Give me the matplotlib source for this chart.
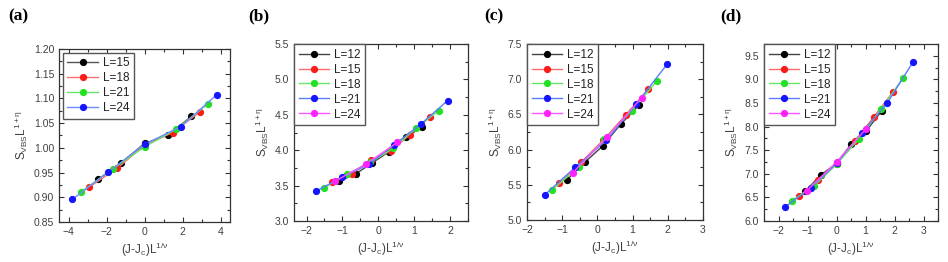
"""Finite-size scaling collapse of S_VBS L^(1+eta) for four parameter sets (a)-(d)."""
import matplotlib
matplotlib.use("Agg")
import matplotlib.pyplot as plt
from matplotlib.ticker import MultipleLocator

plt.rcParams["font.family"] = ["Liberation Sans", "DejaVu Sans"]
plt.rcParams["mathtext.fontset"] = "custom"
plt.rcParams["mathtext.rm"] = "Liberation Sans"
plt.rcParams["mathtext.it"] = "Liberation Sans"

# ---- data ----
a_sizes = ["L=15", "L=18", "L=21", "L=24"]
a_x = [[-2.45, -1.22, 0.0, 1.25, 2.47],
       [-2.90, -1.43, 0.0, 1.48, 2.90],
       [-3.34, -1.65, 0.0, 1.68, 3.34],
       [-3.79, -1.91, 0.0, 1.91, 3.79]]
a_y = [[0.936, 0.970, 1.009, 1.026, 1.064],
       [0.921, 0.959, 1.005, 1.031, 1.072],
       [0.911, 0.958, 1.002, 1.038, 1.089],
       [0.896, 0.951, 1.007, 1.043, 1.107]]

bcd_sizes = ["L=12", "L=15", "L=18", "L=21", "L=24"]
b_x = [[-1.09, -0.62, -0.17, 0.30, 0.76, 1.23],
       [-1.28, -0.73, -0.19, 0.35, 0.88, 1.44],
       [-1.52, -0.87, -0.22, 0.42, 1.05, 1.69],
       [-1.74, -1.00, -0.27, 0.45, 1.19, 1.93],
       [-1.21, -0.33, 0.53]]
b_y = [[3.56, 3.67, 3.82, 3.98, 4.18, 4.33],
       [3.55, 3.67, 3.86, 3.99, 4.22, 4.47],
       [3.47, 3.66, 3.83, 4.03, 4.31, 4.56],
       [3.42, 3.62, 3.80, 4.08, 4.37, 4.70],
       [3.56, 3.81, 4.11]]

c_x = [[-0.87, -0.36, 0.15, 0.66, 1.18],
       [-1.08, -0.46, 0.17, 0.80, 1.45],
       [-1.28, -0.53, 0.20, 0.97, 1.70],
       [-1.49, -0.63, 0.25, 1.11, 1.99],
       [-0.70, 0.28, 1.26]]
c_y = [[5.57, 5.82, 6.05, 6.36, 6.63],
       [5.52, 5.82, 6.14, 6.49, 6.86],
       [5.43, 5.75, 6.15, 6.55, 6.98],
       [5.36, 5.75, 6.13, 6.65, 7.22],
       [5.67, 6.18, 6.74]]

d_x = [[-1.08, -0.55, 0.0, 0.51, 1.03, 1.57],
       [-1.29, -0.65, 0.0, 0.63, 1.29, 1.94],
       [-1.54, -0.76, 0.0, 0.76, 1.54, 2.28],
       [-1.79, -0.89, 0.0, 0.88, 1.75, 2.64],
       [-1.03, 0.0, 1.00]]
d_y = [[6.63, 6.97, 7.22, 7.63, 7.91, 8.34],
       [6.52, 6.86, 7.20, 7.69, 8.21, 8.73],
       [6.43, 6.75, 7.20, 7.73, 8.37, 9.02],
       [6.29, 6.70, 7.22, 7.87, 8.50, 9.37],
       [6.64, 7.25, 7.94]]

# marker / line colours per size
mk_col = {"L=12": "#000000", "L=15": "#ff1a1a", "L=18": "#22e022",
          "L=21": "#1515ff", "L=24": "#ff22ff"}
ln_col = {"L=12": "#444444", "L=15": "#ff6a6a", "L=18": "#66e666",
          "L=21": "#5a7dff", "L=24": "#ff55ff"}
# panel (a) uses a shifted colour sequence
a_mk = ["#000000", "#ff1a1a", "#22e022", "#1515ff"]
a_ln = ["#555555", "#ff7070", "#66e666", "#6a8cff"]

panels = [
    ("(a)", a_sizes, a_x, a_y, a_mk, a_ln, (-4.5, 4.5), (0.85, 1.20), 2, 1, 0.05, 0.025, "%.2f",
     [59, 49, 230, 222], 8),
    ("(b)", bcd_sizes, b_x, b_y, [mk_col[s] for s in bcd_sizes], [ln_col[s] for s in bcd_sizes],
     (-2.35, 2.5), (3.0, 5.5), 1, 0.5, 0.5, 0.25, "%.1f", [294, 44, 468, 221], 248),
    ("(c)", bcd_sizes, c_x, c_y, [mk_col[s] for s in bcd_sizes], [ln_col[s] for s in bcd_sizes],
     (-2, 3), (5.0, 7.5), 1, 0.5, 0.5, 0.25, "%.1f", [527, 44, 703, 220], 484),
    ("(d)", bcd_sizes, d_x, d_y, [mk_col[s] for s in bcd_sizes], [ln_col[s] for s in bcd_sizes],
     (-2.5, 3.5), (6.0, 9.75), 1, 0.5, 0.5, 0.25, "%.1f", [764, 44, 938, 221], 720),
]

W, H = 948, 262
fig = plt.figure(figsize=(W / 100, H / 100), dpi=100)
axc = "#333333"
txtc = "#404040"

for (tag, sizes, xs, ys, mks, lns, xl, yl, xmaj, xmin, ymaj, ymin, yfmt,
     box, tagx) in panels:
    l, t, r, b = box
    ax = fig.add_axes([l / W, (H - b) / H, (r - l) / W, (b - t) / H])
    for lab, x, y, mc, lc in zip(sizes, xs, ys, mks, lns):
        ax.plot(x, y, "-", color=lc, lw=1.0, marker="o", ms=4.2,
                mfc=mc, mec=mc, label=lab)
    ax.set_xlim(*xl)
    ax.set_ylim(*yl)
    ax.xaxis.set_major_locator(MultipleLocator(xmaj))
    ax.xaxis.set_minor_locator(MultipleLocator(xmin))
    ax.yaxis.set_major_locator(MultipleLocator(ymaj))
    ax.yaxis.set_minor_locator(MultipleLocator(ymin))
    ax.yaxis.set_major_formatter(matplotlib.ticker.FormatStrFormatter(yfmt))
    ax.tick_params(which="both", direction="in", top=True, right=True,
                   color=axc, labelcolor=txtc, labelsize=7.5, width=0.8)
    ax.tick_params(which="major", length=3.5)
    ax.tick_params(which="minor", length=2)
    for sp in ax.spines.values():
        sp.set_color(axc)
        sp.set_linewidth(0.9)
    ax.set_xlabel(r"(J-J$_c$)L$^{1/\nu}$", fontsize=8.5, color=txtc, labelpad=3)
    ax.set_ylabel(r"S$_{VBS}$L$^{1+\eta}$", fontsize=8.5, color=txtc, labelpad=3)
    leg = ax.legend(loc="upper left", fontsize=8.5, handlelength=2.6,
                    handletextpad=0.4, labelspacing=0.25, borderpad=0.4,
                    borderaxespad=0.3 if tag == "(a)" else 0.0, fancybox=False,
                    framealpha=1)
    leg.get_frame().set_edgecolor("#555555")
    leg.get_frame().set_linewidth(1.0)
    for txt in leg.get_texts():
        txt.set_color("#222222")
    fig.text(tagx / W, 1 - 16 / H, tag, fontsize=12.5, fontweight="bold",
             family=["Liberation Serif", "DejaVu Serif"], va="center", ha="left")

fig.savefig("out.png", dpi=100)
